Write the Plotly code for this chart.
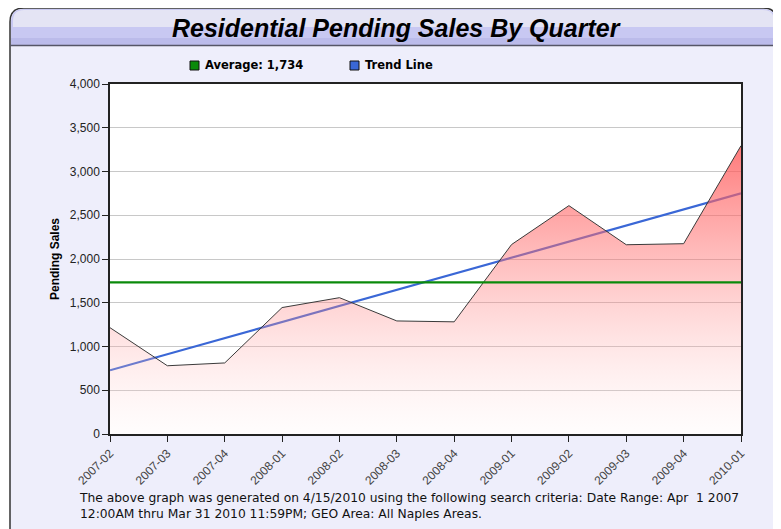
import plotly.graph_objects as go

quarters = ["2007-02", "2007-03", "2007-04", "2008-01", "2008-02", "2008-03",
            "2008-04", "2009-01", "2009-02", "2009-03", "2009-04", "2010-01"]
pending_sales = [1215, 780, 812, 1445, 1558, 1292, 1282, 2165, 2610, 2163, 2175, 3295]
average_value = 1734
trend_start = 728
trend_end = 2750
y_ticks = [0, 500, 1000, 1500, 2000, 2500, 3000, 3500, 4000]

# page body has an 8px default margin, so the figure is drawn 8px in
OFF = 8
W, H = 781 - OFF, 529 - OFF
L, R, T, B = 110 - OFF, 40, 84 - OFF, 95
PW, PH = W - L - R, H - T - B


def px(x):  # screen px -> paper
    return (x - OFF - L) / PW


def py(y):
    return (H - B - (y - OFF)) / PH


FONT = "Liberation Sans, Arial, sans-serif"
WIDE = "DejaVu Sans, Verdana, sans-serif"

fig = go.Figure()

# trend line (drawn beneath the area fill)
fig.add_trace(go.Scatter(
    x=[quarters[0], quarters[-1]], y=[trend_start, trend_end],
    mode="lines", line=dict(color="#3A67D6", width=2.2),
    showlegend=False, hoverinfo="skip"))

# area series
fig.add_trace(go.Scatter(
    x=quarters, y=pending_sales, mode="lines",
    line=dict(color="#3a3a3a", width=1),
    fill="tozeroy",
    fillgradient=dict(type="vertical", start=0, stop=3300,
                      colorscale=[[0, "rgba(255,240,240,0.15)"],
                                  [0.5, "rgba(255,120,120,0.37)"],
                                  [1, "rgba(255,85,85,0.78)"]]),
    showlegend=False))

# average line
fig.add_trace(go.Scatter(
    x=[quarters[0], quarters[-1]], y=[average_value, average_value],
    mode="lines", line=dict(color="#0A8A0A", width=2.2),
    showlegend=False, hoverinfo="skip"))

shapes = []


def frame_path(x0, x1, y0, y1, r):
    return (f"M {px(x0)},{py(y1)} L {px(x0)},{py(y0 + r)} "
            f"Q {px(x0)},{py(y0)} {px(x0 + r)},{py(y0)} "
            f"L {px(x1 - r)},{py(y0)} Q {px(x1)},{py(y0)} {px(x1)},{py(y0 + r)} "
            f"L {px(x1)},{py(y1)} Z")


x0, x1, y0, y1, r = 10, 777, 8, 545, 14
shapes.append(dict(type="path", xref="paper", yref="paper", layer="below",
                   path=frame_path(x0, x1, y0, y1, r),
                   fillcolor="#EEEEFB", line=dict(color="#333333", width=1.5)))
# white plotting area
shapes.append(dict(type="rect", xref="paper", yref="paper", layer="below",
                   x0=0, x1=1, y0=0, y1=1, fillcolor="#FFFFFF", line=dict(width=0)))
# title band
shapes.append(dict(type="path", xref="paper", yref="paper", layer="below",
                   path=frame_path(x0 + 1, x1 - 1, y0 + 1, 45, r - 1),
                   fillcolor="#C8C8F2", line=dict(width=0)))
shapes.append(dict(type="path", xref="paper", yref="paper", layer="below",
                   path=frame_path(x0 + 3, x1 - 3, y0 + 2, 27, r - 3),
                   fillcolor="#E4E4F4", line=dict(width=0)))
shapes.append(dict(type="rect", xref="paper", yref="paper", layer="below",
                   x0=px(x0 + 1), x1=px(x1 - 1), y0=py(38), y1=py(45),
                   fillcolor="#BBBBEA", line=dict(width=0)))
shapes.append(dict(type="line", xref="paper", yref="paper", layer="below",
                   x0=px(x0), x1=px(x1), y0=py(45.5), y1=py(45.5),
                   line=dict(color="#555566", width=1.5)))
# legend squares
for sx, col in [(190, "#0A8A0A"), (350, "#3A67D6")]:
    shapes.append(dict(type="rect", xref="paper", yref="paper",
                       x0=px(sx), x1=px(sx + 9), y0=py(70), y1=py(61),
                       fillcolor=col, line=dict(color="#111111", width=1)))

annotations = [
    dict(text="<b><i>Residential Pending Sales By Quarter</i></b>", xref="paper", yref="paper",
         x=px(396), y=py(28), xanchor="center", yanchor="middle", showarrow=False,
         font=dict(family=FONT, size=25, color="#000000")),
    dict(text="<b>Average: 1,734</b>", xref="paper", yref="paper",
         x=px(203), y=py(65.5), xanchor="left", yanchor="middle", showarrow=False,
         font=dict(family=WIDE, size=11.5, color="#000000")),
    dict(text="<b>Trend Line</b>", xref="paper", yref="paper",
         x=px(363), y=py(65.5), xanchor="left", yanchor="middle", showarrow=False,
         font=dict(family=WIDE, size=11.5, color="#000000")),
    dict(text="The above graph was generated on 4/15/2010 using the following search criteria: Date Range: Apr  1 2007<br>"
              "12:00AM thru Mar 31 2010 11:59PM; GEO Area: All Naples Areas.",
         xref="paper", yref="paper", x=px(77), y=py(489), xanchor="left", yanchor="top",
         align="left", showarrow=False,
         font=dict(family=WIDE, size=12.3, color="#111111")),
]

fig.update_layout(
    width=W, height=H,
    margin=dict(l=L, r=R, t=T, b=B),
    paper_bgcolor="#FFFFFF",
    plot_bgcolor="#FFFFFF",
    shapes=shapes,
    annotations=annotations,
    showlegend=False,
    font=dict(family=FONT, size=11, color="#222222"),
    xaxis=dict(type="category", categoryorder="array", categoryarray=quarters,
               range=[0, len(quarters) - 1],
               showgrid=False, showline=True, linecolor="#222222", linewidth=1.5,
               mirror=True, ticks="outside", ticklen=6, tickcolor="#222222",
               tickangle=-45, tickfont=dict(family=FONT, size=12, color="#444444"),
               zeroline=False, automargin=False),
    yaxis=dict(range=[0, 4000], tickvals=y_ticks, tickformat=",",
               showgrid=True, gridcolor="#C8C8C8", gridwidth=1,
               showline=True, linecolor="#222222", linewidth=1.5, mirror=True,
               ticks="outside", ticklen=6, tickcolor="#222222",
               tickfont=dict(family=FONT, size=12, color="#222222"),
               zeroline=False, automargin=False,
               title=dict(text="<b>Pending Sales</b>", standoff=8,
                          font=dict(family=FONT, size=12, color="#000000"))),
)

fig.write_html("out.html")
